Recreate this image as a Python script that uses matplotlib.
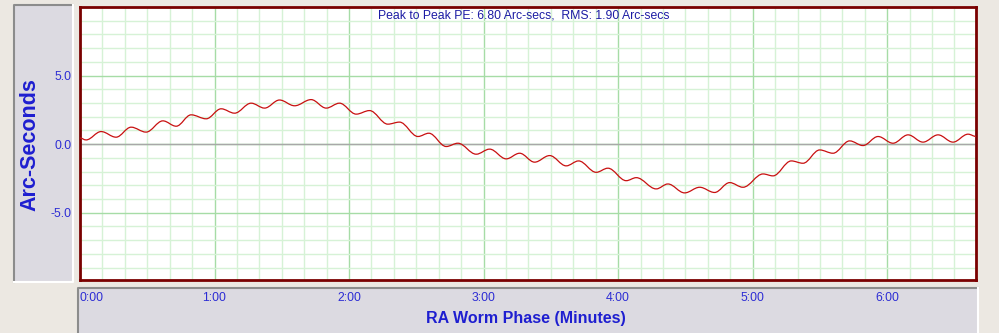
import matplotlib
matplotlib.use("Agg")
from matplotlib import pyplot as plt
from matplotlib.path import Path
from matplotlib.patches import PathPatch, Rectangle
from matplotlib.lines import Line2D

# Periodic error curve: turning points of the trace (minutes, arc-seconds)
phase_min = [0.000, 0.045, 0.157, 0.268, 0.380, 0.491, 0.616, 0.715, 0.826, 0.938,
             1.049, 1.149, 1.272, 1.372, 1.483, 1.595, 1.718, 1.830, 1.929, 2.053,
             2.152, 2.288, 2.375, 2.512, 2.593, 2.722, 2.809, 2.945, 3.045, 3.168,
             3.268, 3.379, 3.491, 3.614, 3.706, 3.837, 3.924, 4.060, 4.135, 4.283,
             4.370, 4.494, 4.606, 4.717, 4.829, 4.928, 5.077, 5.151, 5.287, 5.374,
             5.498, 5.597, 5.721, 5.820, 5.932, 6.043, 6.155, 6.266, 6.378, 6.489,
             6.601, 6.662]
error_arcsec = [0.45, 0.31, 0.92, 0.51, 1.24, 0.88, 1.70, 1.31, 2.14, 1.85,
                2.58, 2.26, 2.99, 2.63, 3.22, 2.80, 3.25, 2.63, 2.99, 2.19,
                2.45, 1.46, 1.61, 0.56, 0.80, -0.17, 0.07, -0.73, -0.36, -1.07,
                -0.66, -1.31, -0.83, -1.58, -1.22, -2.05, -1.75, -2.66, -2.44, -3.26,
                -2.90, -3.55, -3.14, -3.52, -2.80, -3.14, -2.17, -2.31, -1.22, -1.39,
                -0.42, -0.66, 0.24, -0.10, 0.56, 0.07, 0.68, 0.15, 0.68, 0.15,
                0.73, 0.56]

minute_ticks = [0, 1, 2, 3, 4, 5, 6]
minute_labels = ["0:00", "1:00", "2:00", "3:00", "4:00", "5:00", "6:00"]
arcsec_ticks = [-5, 0, 5]
arcsec_labels = ["-5.0", "0.0", "5.0"]

p2p = max(error_arcsec) - min(error_arcsec)
rms = 1.90

W, H = 999, 333
BG = "#ECE8E2"
PANEL = "#DCDAE1"
BLUE = "#2C2CD4"
DARKBLUE = "#1C1CA4"

plt.rcParams['font.family'] = ['Liberation Sans', 'DejaVu Sans']


def fx(px):
    return px / W


def fy(py):
    return 1 - py / H


def panel(fig, x0, y0, x1, y1):
    fig.patches.append(Rectangle((fx(x0), fy(y1)), fx(x1) - fx(x0), fy(y0) - fy(y1),
                                 transform=fig.transFigure, facecolor=PANEL,
                                 edgecolor="none", zorder=-2))
    # sunken look: grey on top/left, white on bottom/right
    fig.lines.append(Line2D([fx(x0), fx(x0), fx(x1)], [fy(y1), fy(y0), fy(y0)],
                            transform=fig.transFigure, color="#8C8C8C", lw=1.5,
                            zorder=-1))
    fig.lines.append(Line2D([fx(x0), fx(x1), fx(x1)], [fy(y1), fy(y1), fy(y0)],
                            transform=fig.transFigure, color="white", lw=1.5,
                            zorder=-1))


def smooth_path(t, y):
    # cubic segments with flat tangents at each turning point
    verts = [(t[0], y[0])]
    codes = [Path.MOVETO]
    for i in range(len(t) - 1):
        dt = t[i + 1] - t[i]
        verts += [(t[i] + 0.36 * dt, y[i]), (t[i + 1] - 0.36 * dt, y[i + 1]),
                  (t[i + 1], y[i + 1])]
        codes += [Path.CURVE4] * 3
    return Path(verts, codes)


fig = plt.figure(figsize=(W / 100, H / 100), dpi=100, facecolor=BG)

panel(fig, 13.5, 5, 72.5, 281.5)
panel(fig, 77.5, 287.5, 977.5, 336)

ax = fig.add_axes([fx(80), fy(280), fx(976) - fx(80), fy(7) - fy(280)])
ax.set_facecolor("white")
ax.set_xlim(0, 6.66)
ax.set_ylim(-9.9, 10.0)

ax.set_xticks(minute_ticks)
ax.set_xticks([m / 6 for m in range(40)], minor=True)
ax.set_yticks(arcsec_ticks)
ax.set_yticks(range(-9, 11), minor=True)
ax.set_xticklabels(minute_labels)
ax.set_yticklabels(arcsec_labels)
ax.tick_params(which="both", length=0)
ax.tick_params(axis="x", pad=8.5, labelsize=8.8, labelcolor=BLUE)
ax.tick_params(axis="y", pad=6, labelsize=8.8, labelcolor=BLUE)
ax.get_xticklabels()[0].set_horizontalalignment("left")

ax.grid(which="minor", color="#D6F2D6", lw=1.0)
ax.grid(which="major", color="#A6DCA6", lw=1.0)
ax.set_axisbelow(True)
ax.axhline(0, color="#A8A8A8", lw=1.0, zorder=1)

ax.add_patch(PathPatch(smooth_path(phase_min, error_arcsec), facecolor="none",
                       edgecolor="#C81010", lw=0.9, zorder=3))

for s in ax.spines.values():
    s.set_color("#7A0000")
    s.set_linewidth(2.0)

fig.text(fx(524), fy(15), "Peak to Peak PE: %.2f Arc-secs,  RMS: %.2f Arc-secs" % (p2p, rms),
         ha="center", va="center", fontsize=8.8, color=DARKBLUE)
fig.text(fx(526), fy(318), "RA Worm Phase (Minutes)", ha="center", va="center",
         fontsize=11.5, fontweight="bold", color="#1E1ED0")
fig.text(fx(30), fy(145), "Arc-Seconds", ha="center", va="center", rotation=90,
         fontsize=15.5, fontweight="bold", color="#1E1ED0")

plt.savefig("out.png", dpi=100, facecolor=BG)
